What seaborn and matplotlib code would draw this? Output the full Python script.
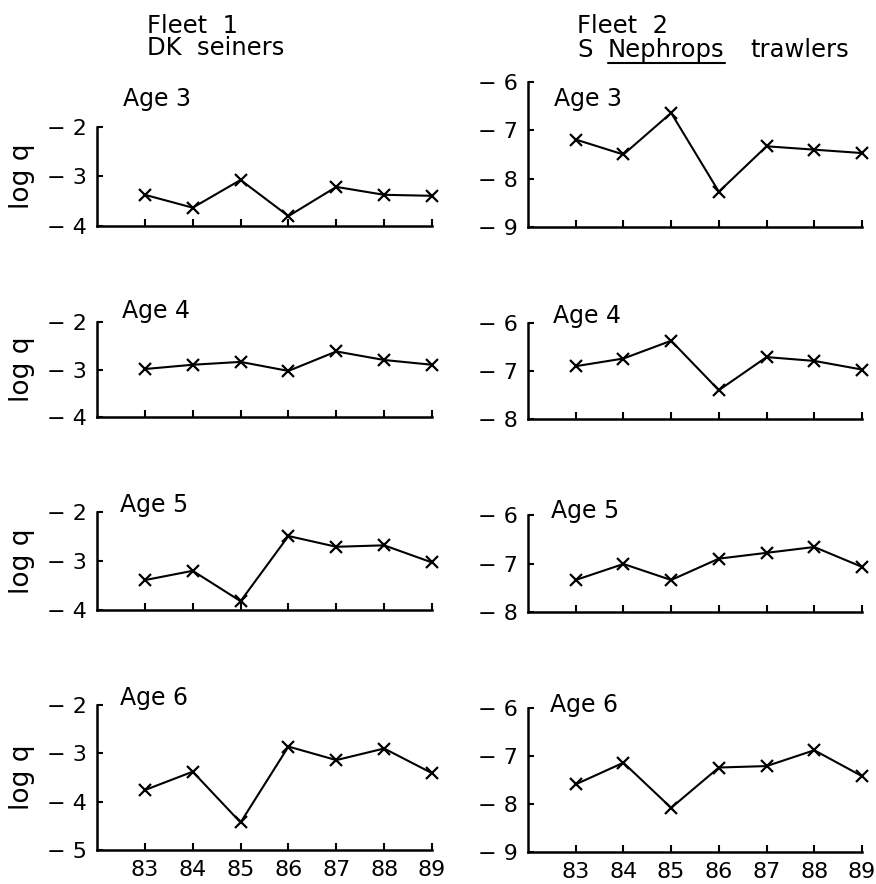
import matplotlib
matplotlib.use("Agg")
import matplotlib.pyplot as plt
from matplotlib.lines import Line2D
import seaborn as sns
import pandas as pd

# Survey years (19xx) shown on the x axis
years = [83, 84, 85, 86, 87, 88, 89]

# log catchability by age, Fleet 1 (DK seiners)
fleet1_age3 = [-3.37, -3.63, -3.07, -3.80, -3.21, -3.37, -3.39]
fleet1_age4 = [-2.99, -2.90, -2.84, -3.03, -2.62, -2.80, -2.90]
fleet1_age5 = [-3.39, -3.20, -3.82, -2.49, -2.71, -2.68, -3.03]
fleet1_age6 = [-3.76, -3.38, -4.43, -2.86, -3.14, -2.90, -3.41]

# log catchability by age, Fleet 2 (S Nephrops trawlers)
fleet2_age3 = [-7.19, -7.50, -6.64, -8.27, -7.33, -7.40, -7.47]
fleet2_age4 = [-6.90, -6.74, -6.37, -7.40, -6.71, -6.79, -6.97]
fleet2_age5 = [-7.34, -7.01, -7.34, -6.90, -6.78, -6.66, -7.07]
fleet2_age6 = [-7.59, -7.14, -8.08, -7.24, -7.21, -6.88, -7.42]

age_labels = ["Age 3", "Age 4", "Age 5", "Age 6"]
fleet1_ylims = [(-4, -2), (-4, -2), (-4, -2), (-5, -2)]
fleet2_ylims = [(-9, -6), (-8, -6), (-8, -6), (-9, -6)]

sns.set_style("ticks")
plt.rcParams["font.family"] = ["DejaVu Sans"]
plt.rcParams["text.color"] = "black"

W, H = 876, 884
fig = plt.figure(figsize=(W / 100, H / 100), dpi=100)


def px_axes(x0, y0, x1, y1):
    """Add an axes given pixel edges measured from the top-left corner."""
    return fig.add_axes([x0 / W, 1 - y1 / H, (x1 - x0) / W, (y1 - y0) / H])


def px_text(x, y, s, **kw):
    return fig.text(x / W, 1 - y / H, s, va="baseline", ha="left",
                    color="black", **kw)


# pixel boxes of each panel: (x0, y_top, x1, y_bottom)
left_boxes = [(97, 127, 432, 226), (97, 322, 432, 417),
              (97, 512, 432, 610), (97, 705, 432, 850)]
right_boxes = [(528, 82, 862, 227), (528, 323, 862, 419),
               (528, 515, 862, 612), (528, 708, 862, 852)]
left_age_pos = [(123, 106), (122, 318), (120, 512), (120, 705)]
right_age_pos = [(554, 106), (553, 323), (551, 518), (550, 712)]

fleet1 = [fleet1_age3, fleet1_age4, fleet1_age5, fleet1_age6]
fleet2 = [fleet2_age3, fleet2_age4, fleet2_age5, fleet2_age6]


def draw_panel(box, values, ylim, bottom_row, ylabel):
    ax = px_axes(*box)
    df = pd.DataFrame({"year": years, "logq": values})
    sns.lineplot(data=df, x="year", y="logq", ax=ax, color="black",
                 linewidth=1.5, marker="x", markersize=8,
                 markeredgewidth=1.6, markeredgecolor="black",
                 clip_on=False)
    ax.set_xlim(82, 89)
    ax.set_ylim(*ylim)
    yt = list(range(ylim[0], ylim[1] + 1))
    ax.set_yticks(yt)
    ax.set_yticklabels(["\u2212 " + str(abs(v)) for v in yt])
    ax.set_xticks(years)
    if bottom_row:
        ax.set_xticklabels([str(y) for y in years])
    else:
        ax.set_xticklabels([])
    sns.despine(ax=ax)
    for s in ("left", "bottom"):
        ax.spines[s].set_linewidth(1.8)
        ax.spines[s].set_color("black")
    ax.tick_params(axis="y", direction="in", length=4, width=1.5,
                   pad=7, labelsize=16, colors="black")
    ax.tick_params(axis="x", direction="in", length=5, width=1.5,
                   pad=7, labelsize=16, colors="black")
    ax.set_xlabel("")
    ax.set_ylabel("")
    ax.patch.set_alpha(0)
    if ylabel:
        yc = (box[1] + box[3]) / 2
        fig.text(22 / W, 1 - yc / H, "log q", rotation=90, ha="center",
                 va="center", fontsize=19, color="black")
    return ax


for i in range(4):
    draw_panel(left_boxes[i], fleet1[i], fleet1_ylims[i], i == 3, True)
    draw_panel(right_boxes[i], fleet2[i], fleet2_ylims[i], i == 3, False)
    px_text(*left_age_pos[i], age_labels[i], fontsize=17)
    px_text(*right_age_pos[i], age_labels[i], fontsize=17)

# fleet headings
px_text(147, 33, "Fleet  1", fontsize=17.5)
px_text(147, 55, "DK  seiners", fontsize=17.5)
px_text(577, 33, "Fleet  2", fontsize=17.5)

fig.canvas.draw()
renderer = fig.canvas.get_renderer()
t_s = px_text(577, 57, "S", fontsize=17.5)
fig.canvas.draw()
bb = t_s.get_window_extent(renderer)
x_n = 608
t_n = fig.text(x_n / W, 1 - 57 / H, "Nephrops", va="baseline", ha="left",
               fontsize=17.5, color="black")
fig.canvas.draw()
bn = t_n.get_window_extent(renderer)
fig.text(750 / W, 1 - 57 / H, "trawlers", va="baseline",
         ha="left", fontsize=17.5, color="black")
fig.add_artist(Line2D([bn.x0 / W, bn.x1 / W], [1 - 63 / H, 1 - 63 / H],
                      transform=fig.transFigure, color="black",
                      linewidth=1.5))

fig.savefig("out.png", dpi=100)
